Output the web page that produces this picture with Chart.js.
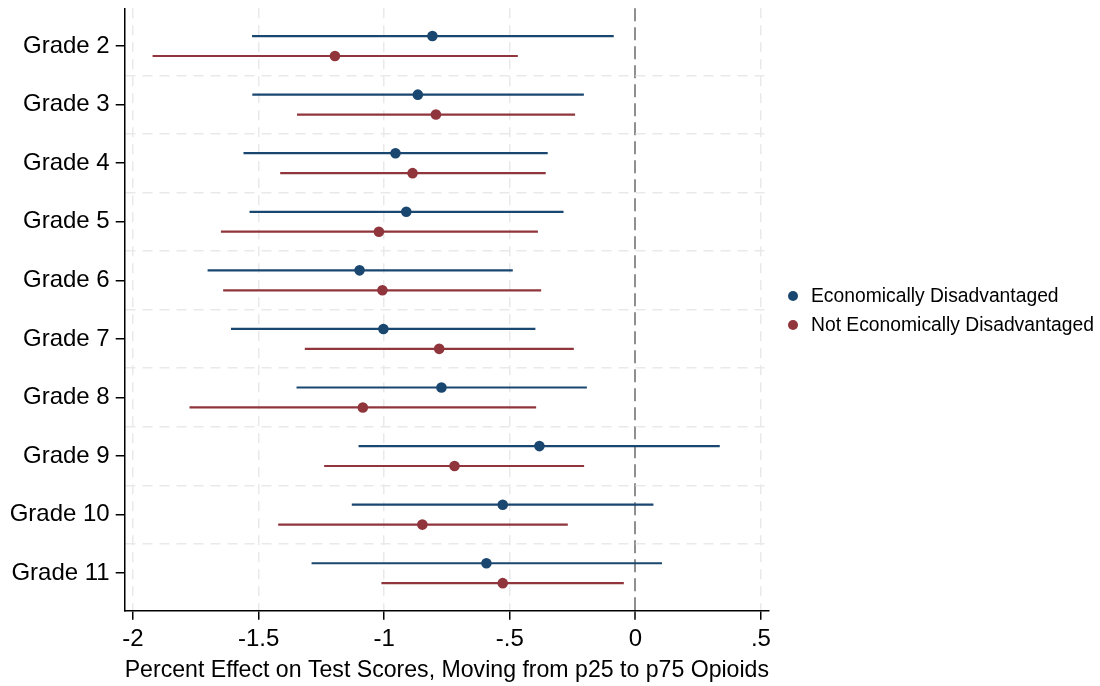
<!DOCTYPE html>
<html>
<head>
<meta charset="utf-8">
<script src="https://cdn.jsdelivr.net/npm/chart.js@4.4.0/dist/chart.umd.min.js"></script>
<style>
html,body{margin:0;padding:0;background:#fff;}
#wrap{position:relative;width:1100px;height:686px;}
#legend{position:absolute;left:788px;top:281px;font:19.3px 'Liberation Sans',Arial,sans-serif;color:#000;}
#legend .item{display:flex;align-items:center;height:29px;white-space:nowrap;}
#legend .dot{width:10px;height:10px;border-radius:50%;margin-right:13px;}
</style>
</head>
<body>
<div id="wrap">
  <canvas id="c" width="1100" height="686"></canvas>
  <div id="legend"></div>
</div>
<script>
// categories (top to bottom)
const grades=['Grade 2','Grade 3','Grade 4','Grade 5','Grade 6','Grade 7','Grade 8','Grade 9','Grade 10','Grade 11'];

// Economically Disadvantaged: estimate + 95% CI
const econEst=[-0.808,-0.866,-0.955,-0.912,-1.098,-1.003,-0.772,-0.382,-0.528,-0.593];
const econLo =[-1.526,-1.525,-1.560,-1.536,-1.703,-1.610,-1.349,-1.102,-1.129,-1.289];
const econHi =[-0.086,-0.205,-0.349,-0.286,-0.488,-0.398,-0.193, 0.336, 0.072, 0.106];

// Not Economically Disadvantaged
const notEst=[-1.196,-0.794,-0.887,-1.021,-1.007,-0.781,-1.085,-0.720,-0.848,-0.528];
const notLo =[-1.922,-1.347,-1.414,-1.650,-1.641,-1.316,-1.775,-1.239,-1.422,-1.011];
const notHi =[-0.468,-0.240,-0.357,-0.388,-0.375,-0.245,-0.395,-0.204,-0.269,-0.046];

const xTicks=[-2,-1.5,-1,-0.5,0,0.5];
const xTickLabels=['-2','-1.5','-1','-.5','0','.5'];

const seriesNames=['Economically Disadvantaged','Not Economically Disadvantaged'];
const BLUE='#1a476f', RED='#90353b';
const FONT="'Liberation Sans', Arial, sans-serif";
const OFF=0.17; // vertical offset of each series within a grade

const pts=(est,d)=>est.map((v,i)=>({x:v,y:i+d}));

// horizontal CI lines, drawn through the chart scales
const ciBars={
  id:'ciBars',
  beforeDatasetsDraw(chart){
    const {ctx,scales:{x,y}}=chart;
    chart.data.datasets.forEach(ds=>{
      ctx.save();
      ctx.strokeStyle=ds.borderColor;ctx.lineWidth=2.2;
      ds.lo.forEach((lo,i)=>{
        const py=y.getPixelForValue(ds.data[i].y);
        ctx.beginPath();
        ctx.moveTo(x.getPixelForValue(lo),py);
        ctx.lineTo(x.getPixelForValue(ds.hi[i]),py);
        ctx.stroke();
      });
      ctx.restore();
    });
  }
};

const yTicks=[];for(let i=0;i<=grades.length-1;i+=0.5)yTicks.push(i);

new Chart(document.getElementById('c'),{
  type:'scatter',
  data:{datasets:[
    {label:seriesNames[0],data:pts(econEst,-OFF),lo:econLo,hi:econHi,backgroundColor:BLUE,borderColor:BLUE,pointRadius:5.3,borderWidth:0,pointHoverRadius:5.3},
    {label:seriesNames[1],data:pts(notEst,OFF),lo:notLo,hi:notHi,backgroundColor:RED,borderColor:RED,pointRadius:5.3,borderWidth:0,pointHoverRadius:5.3},
  ]},
  options:{
    responsive:false,animation:false,devicePixelRatio:1,
    layout:{padding:{top:8.3,right:331,bottom:0,left:0}},
    plugins:{legend:{display:false},tooltip:{enabled:false}},
    scales:{
      x:{
        type:'linear',min:-2.033,max:0.532,
        afterBuildTicks:(s)=>{s.ticks=xTicks.map(v=>({value:v}));},
        afterFit:(s)=>{s.height=75.3;s.paddingLeft=0;s.paddingRight=0;},
        ticks:{color:'#000',font:{family:FONT,size:24},padding:5,maxRotation:0,autoSkip:false,
          callback:(v,i)=>xTickLabels[i]},
        grid:{
          color:(c)=>c.tick&&c.tick.value===0?'#8f8f8f':'#e9e9e9',
          lineWidth:(c)=>c.tick&&c.tick.value===0?2:1.5,
          tickColor:'#000',tickLength:9,tickWidth:1.5
        },
        border:{color:'#000',width:1.5,dash:(c)=>c.tick&&c.tick.value===0?[13,6]:[10,7]},
        title:{display:true,text:'Percent Effect on Test Scores, Moving from p25 to p75 Opioids',color:'#000',
          font:{family:FONT,size:24.3},padding:{top:0,bottom:1}}
      },
      y:{
        type:'linear',reverse:true,min:-0.644,max:9.64,
        afterBuildTicks:(s)=>{s.ticks=yTicks.map(v=>({value:v}));},
        afterFit:(s)=>{s.width=124.7;s.paddingTop=0;s.paddingBottom=0;},
        ticks:{color:'#000',font:{family:FONT,size:24},padding:6,autoSkip:false,
          callback:(v)=>Number.isInteger(v)?grades[v]:''},
        grid:{
          color:(c)=>c.tick&&Number.isInteger(c.tick.value)?'rgba(0,0,0,0)':'#e9e9e9',
          lineWidth:1.5,
          tickColor:(c)=>c.tick&&Number.isInteger(c.tick.value)?'#000':'rgba(0,0,0,0)',
          tickLength:9,tickWidth:1.5
        },
        border:{color:'#000',width:1.5,dash:[10,7]}
      }
    }
  },
  plugins:[ciBars]
});

// legend
const lg=document.getElementById('legend');
[BLUE,RED].forEach((col,i)=>{
  const it=document.createElement('div');it.className='item';
  it.innerHTML='<span class="dot" style="background:'+col+'"></span><span>'+seriesNames[i]+'</span>';
  lg.appendChild(it);
});
</script>
</body>
</html>
